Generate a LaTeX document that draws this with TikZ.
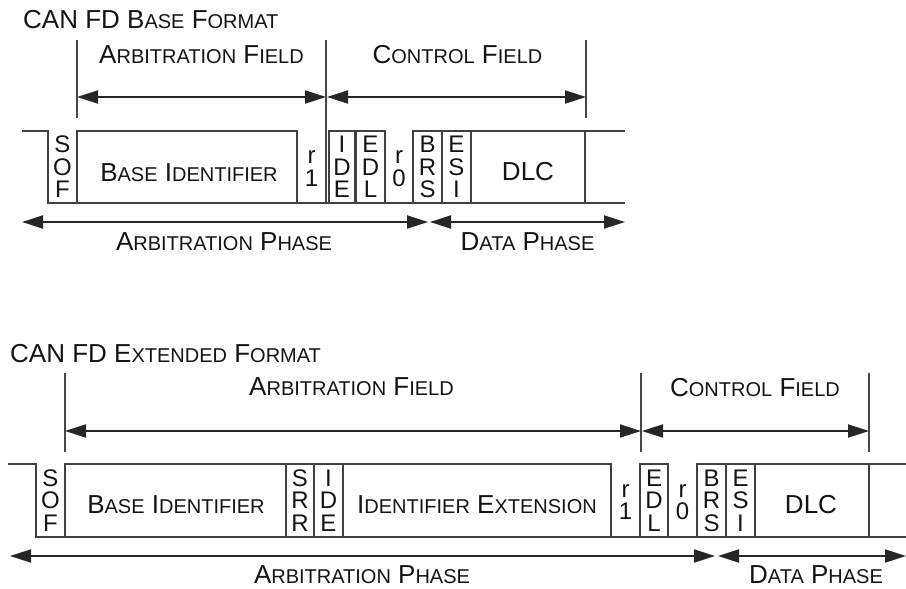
\documentclass[tikz,border=0pt]{standalone}
\usepackage{fontspec}
\setmainfont{Liberation Sans}
\usetikzlibrary{arrows.meta}
\newcommand{\LblFont}{\fontsize{26}{30}\selectfont}
\newcommand{\SmC}[1]{{\fontsize{20}{24}\selectfont #1}}
\newcommand{\BitFont}{\fontsize{24}{22.5}\selectfont}
\begin{document}
\begin{tikzpicture}[x=1pt,y=-1pt,
  wave/.style={draw=black!75, line width=1.5pt},
  fieldline/.style={draw=black!72, line width=1.6pt},
  dimarrow/.style={draw=black!85, line width=1.9pt,
    {Triangle[length=21pt,width=13pt]}-{Triangle[length=21pt,width=13pt]}},
  lbl/.style={inner sep=0pt, anchor=base, font=\LblFont, text=black!92},
  bitlbl/.style={inner sep=0pt, align=center, font=\BitFont, text=black!92}]
\useasboundingbox (0,0) rectangle (906,589);

% ================= CAN FD BASE FORMAT =================
\node[lbl, anchor=base west] (t1) at (23,28) {CAN FD B\SmC{ASE} F\SmC{ORMAT}};
\node[lbl] (af1) at (201.5,63) {A\SmC{RBITRATION} F\SmC{IELD}};
\node[lbl] (cf1) at (457.5,63) {C\SmC{ONTROL} F\SmC{IELD}};

% field boundary lines
\coordinate (f1a) at (77,40);  \coordinate (f1a') at (77,118);
\coordinate (f1b) at (326,40); \coordinate (f1b') at (326,203);
\coordinate (f1c) at (586,40); \coordinate (f1c') at (586,118);
\draw[fieldline] (f1a) -- (f1a');
\draw[fieldline] (f1b) -- (f1b');
\draw[fieldline] (f1c) -- (f1c');
\coordinate (a1l) at (77,97); \coordinate (a1m) at (326,97);
\coordinate (a1m') at (327,97); \coordinate (a1r) at (586,97);
\draw[dimarrow] (a1l) -- (a1m);
\draw[dimarrow] (a1m') -- (a1r);

% waveform
\draw[wave] (22,131) -- (48,131) -- (48,203) -- (625,203);
\draw[wave] (77,203) -- (77,131) -- (297,131) -- (297,203);
\draw[wave] (329,131) rectangle (355,203);
\draw[wave] (356,131) rectangle (385,203);
\draw[wave] (413,203) -- (413,131) -- (625,131);
\draw[wave] (442,131) -- (442,203);
\draw[wave] (471,131) -- (471,203);
\draw[wave] (585,131) -- (585,203);

\node[bitlbl] (sof1) at (62.5,167) {S\\O\\F};
\node[lbl] (bid1) at (189,181) {B\SmC{ASE} I\SmC{DENTIFIER}};
\node[bitlbl] (r11) at (311.5,168.5) {r\\1};
\node[bitlbl] (ide1) at (342,167) {I\\D\\E};
\node[bitlbl] (edl1) at (370.5,167) {E\\D\\L};
\node[bitlbl] (r01) at (399,168.5) {r\\0};
\node[bitlbl] (brs1) at (427.5,167) {B\\R\\S};
\node[bitlbl] (esi1) at (456.5,167) {E\\S\\I};
\node[lbl] (dlc1) at (528,180) {DLC};

% phases
\coordinate (p1l) at (22,222); \coordinate (p1m) at (428,222);
\coordinate (p1m') at (430,222); \coordinate (p1r) at (625,222);
\draw[dimarrow] (p1l) -- (p1m);
\draw[dimarrow] (p1m') -- (p1r);
\node[lbl] (ap1) at (224,250) {A\SmC{RBITRATION} P\SmC{HASE}};
\node[lbl] (dp1) at (527.5,250) {D\SmC{ATA} P\SmC{HASE}};

% ================= CAN FD EXTENDED FORMAT =================
\node[lbl, anchor=base west] (t2) at (10,362) {CAN FD E\SmC{XTENDED} F\SmC{ORMAT}};
\node[lbl] (af2) at (351.5,395) {A\SmC{RBITRATION} F\SmC{IELD}};
\node[lbl] (cf2) at (755,396) {C\SmC{ONTROL} F\SmC{IELD}};

\coordinate (f2a) at (65,373);  \coordinate (f2a') at (65,452);
\coordinate (f2b) at (641,373); \coordinate (f2b') at (641,452);
\coordinate (f2c) at (869,373); \coordinate (f2c') at (869,452);
\draw[fieldline] (f2a) -- (f2a');
\draw[fieldline] (f2b) -- (f2b');
\draw[fieldline] (f2c) -- (f2c');
\coordinate (a2l) at (65,431); \coordinate (a2m) at (641,431);
\coordinate (a2m') at (642,431); \coordinate (a2r) at (869,431);
\draw[dimarrow] (a2l) -- (a2m);
\draw[dimarrow] (a2m') -- (a2r);

% waveform
\draw[wave] (8,464) -- (36,464) -- (36,537) -- (906,537);
\draw[wave] (65,537) -- (65,464) -- (611,464) -- (611,537);
\draw[wave] (286,464) -- (286,537);
\draw[wave] (314,464) -- (314,537);
\draw[wave] (343,464) -- (343,537);
\draw[wave] (640,464) rectangle (668,537);
\draw[wave] (697,537) -- (697,464) -- (906,464);
\draw[wave] (726,464) -- (726,537);
\draw[wave] (755,464) -- (755,537);
\draw[wave] (869,464) -- (869,537);

\node[bitlbl] (sof2) at (50.5,500.5) {S\\O\\F};
\node[lbl] (bid2) at (176,513) {B\SmC{ASE} I\SmC{DENTIFIER}};
\node[bitlbl] (srr2) at (300,500.5) {S\\R\\R};
\node[bitlbl] (ide2) at (328.5,500.5) {I\\D\\E};
\node[lbl] (iex2) at (477,513) {I\SmC{DENTIFIER} E\SmC{XTENSION}};
\node[bitlbl] (r12) at (625.5,502) {r\\1};
\node[bitlbl] (edl2) at (654,500.5) {E\\D\\L};
\node[bitlbl] (r02) at (682.5,502) {r\\0};
\node[bitlbl] (brs2) at (711.5,500.5) {B\\R\\S};
\node[bitlbl] (esi2) at (740.5,500.5) {E\\S\\I};
\node[lbl] (dlc2) at (811,513) {DLC};

\coordinate (p2l) at (10,556); \coordinate (p2m) at (715,556);
\coordinate (p2m') at (718,556); \coordinate (p2r) at (906,556);
\draw[dimarrow] (p2l) -- (p2m);
\draw[dimarrow] (p2m') -- (p2r);
\node[lbl] (ap2) at (362,583) {A\SmC{RBITRATION} P\SmC{HASE}};
\node[lbl] (dp2) at (816,583) {D\SmC{ATA} P\SmC{HASE}};
\end{tikzpicture}
\end{document}
